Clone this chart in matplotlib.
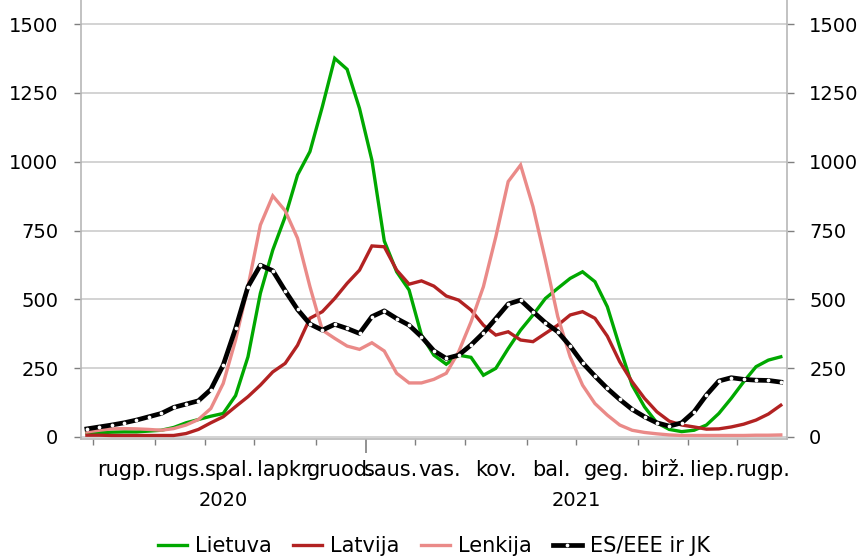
import numpy as np
import matplotlib
matplotlib.use('Agg')
from matplotlib import pyplot as plt

# weekly values, last week of July 2020 to end of August 2021
lietuva = [15, 15, 17, 18, 18, 21, 24, 34, 51, 63, 75, 85, 150, 291, 522, 679, 800, 952, 1037,
           1200, 1376, 1336, 1194, 1006, 712, 600, 534, 370, 297, 264, 297, 289, 224, 249,
           321, 388, 443, 503, 540, 576, 600, 564, 473, 327, 188, 109, 51, 27, 19, 24, 43,
           85, 140, 200, 255, 279, 291]
latvija = [6, 6, 5, 5, 5, 5, 5, 5, 12, 27, 51, 73, 110, 146, 188, 236, 267, 333, 431,
           455, 503, 558, 606, 694, 691, 606, 555, 567, 548, 512, 497, 461, 406, 370,
           382, 352, 346, 376, 406, 443, 455, 431, 366, 273, 200, 140, 91, 57, 43, 36, 28,
           29, 36, 46, 61, 83, 115]
lenkija = [18, 24, 29, 30, 29, 27, 24, 30, 43, 63, 103, 194, 352, 546, 770, 876, 822, 722,
           546, 388, 358, 330, 318, 342, 312, 231, 196, 196, 209, 231, 309, 418, 546, 727,
           928, 988, 837, 643, 437, 291, 188, 121, 79, 43, 24, 16, 11, 7, 5, 5, 5, 5, 5,
           5, 6, 6, 7]
es_eee_jk = [29, 36, 43, 51, 61, 73, 85, 107, 119, 131, 172, 261, 394, 546, 624, 604, 531,
             463, 410, 388, 409, 394, 376, 437, 458, 430, 406, 364, 313, 285, 297, 334, 378,
             430, 483, 497, 455, 415, 382, 330, 269, 221, 176, 136, 100, 73, 51, 39, 51, 91,
             152, 203, 215, 209, 206, 205, 199]

months = ['rugp.', 'rugs.', 'spal.', 'lapkr.', 'gruod.', 'saus.', 'vas.', 'kov.', 'bal.',
          'geg.', 'birž.', 'liep.', 'rugp.']
weeks_in_month = [5, 4, 4, 5, 4, 4, 4, 5, 4, 5, 4, 4, 4]
years = ['2020', '2021']

x = np.arange(len(lietuva))
bounds = 1 + np.concatenate([[0], np.cumsum(weeks_in_month)])
month_mid = (bounds[:-1] + bounds[1:]) / 2 - 0.5
jan = bounds[5]

fig = plt.figure(figsize=(8.61, 5.58), dpi=100)
ax = fig.add_axes([80.7 / 861, 1 - 438.5 / 558, (787 - 80.7) / 861, 438.5 / 558])

ax.plot(x, lietuva, color='#00a800', lw=2.4, label='Lietuva', solid_joinstyle='miter')
ax.plot(x, latvija, color='#b22222', lw=2.4, label='Latvija', solid_joinstyle='miter')
ax.plot(x, lenkija, color='#ea8a88', lw=2.4, label='Lenkija', solid_joinstyle='miter')
ax.plot(x, es_eee_jk, color='black', lw=3.4, marker='o', ms=2.7, mfc='white', mec='white',
        mew=0, label='ES/EEE ir JK')

ax.set_xlim(-0.5, len(x) - 0.5)
ax.set_ylim(-6, 1588)
ax.set_yticks(np.arange(0, 1501, 250))
ax.yaxis.grid(True, color='#cccccc', lw=1.2)
ax.set_axisbelow(True)

for s in ['left', 'right', 'bottom']:
    ax.spines[s].set_color('#b8b8b8')
    ax.spines[s].set_linewidth(1.2)
ax.spines['top'].set_visible(False)

ax.tick_params(axis='y', which='both', left=True, right=True, labelleft=True, labelright=True,
               length=5, width=1, color='#7f7f7f', labelsize=14, pad=11, direction='out')

# month boundaries as ticks, year boundary longer
ax.set_xticks([b - 0.5 for b in bounds[:-1] if b != jan])
ax.set_xticks([jan - 0.5], minor=True)
ax.tick_params(axis='x', which='major', length=4, width=1, color='#7f7f7f', labelbottom=False)
ax.tick_params(axis='x', which='minor', length=10, width=1.2, color='#7f7f7f')

tr = ax.get_xaxis_transform()
for m, lab in zip(month_mid, months):
    ax.text(m, -0.0845, lab, transform=tr, ha='center', va='baseline', fontsize=15)
ax.text((-0.5 + jan - 0.5) / 2, -0.155, years[0], transform=tr, ha='center', va='baseline',
        fontsize=14)
ax.text((jan - 0.5 + len(x) - 0.5) / 2, -0.155, years[1], transform=tr, ha='center',
        va='baseline', fontsize=14)

fig.legend(loc='center', bbox_to_anchor=(434 / 861, 12 / 558), ncol=4, frameon=False,
           fontsize=15, handlelength=1.4, handletextpad=0.4, columnspacing=1.0)

fig.savefig('out.png', dpi=100)
